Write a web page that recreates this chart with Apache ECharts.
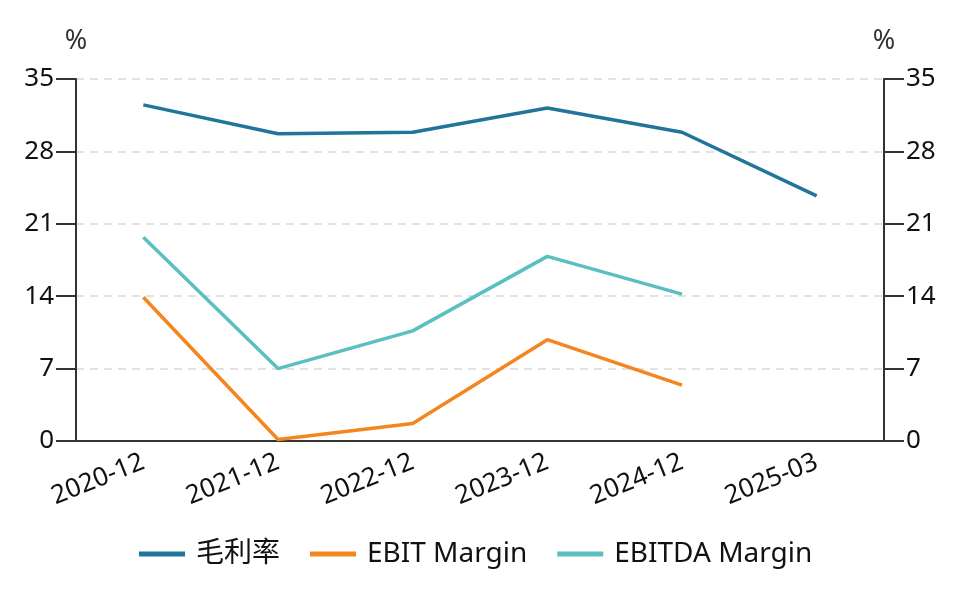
<!DOCTYPE html>
<html><head><meta charset="utf-8">
<script src="https://cdn.jsdelivr.net/npm/echarts@6/dist/echarts.min.js"></script>
<style>html,body{margin:0;padding:0;background:#fff}#c{width:977px;height:597px}</style>
</head><body><div id="c"></div>
<script>
const categories = ['2020-12','2021-12','2022-12','2023-12','2024-12','2025-03'];
const grossMargin = [32.5, 29.7, 29.85, 32.2, 29.85, 23.7];
const ebitMargin = [13.9, 0.15, 1.7, 9.8, 5.4, null];
const ebitdaMargin = [19.7, 7.0, 10.65, 17.85, 14.2, null];
const seriesNames = ['毛利率','EBIT Margin','EBITDA Margin'];
const colors = ['#21759b','#f5861f','#5bbfc0'];
const font = '"Noto Sans", "Noto Sans CJK SC", sans-serif';

const yAxisCommon = {
  type: 'value', min: 0, max: 35, interval: 7, name: '%',
  nameGap: 24,
  nameTextStyle: {fontSize: 27, color: '#333', fontFamily: font},
  axisLine: {show: true, lineStyle: {color: '#333', width: 2}},
  axisTick: {show: true, length: 20, lineStyle: {color: '#333', width: 2}},
  axisLabel: {fontSize: 26, color: '#111', fontFamily: font, margin: 22},
};
const chart = echarts.init(document.getElementById('c'));
chart.setOption({
  color: colors,
  animation: false,
  grid: {left: 76, right: 93, top: 79, bottom: 156},
  legend: {
    bottom: 24, left: 134, itemWidth: 46, itemHeight: 5, itemGap: 30,
    textStyle: {fontSize: 28, color: '#111', fontFamily: font, padding: [0, 0, 0, 6]},
    data: seriesNames.map(n => ({name: n, icon: 'rect'}))
  },
  xAxis: {
    type: 'category', data: categories, boundaryGap: true,
    axisLine: {lineStyle: {color: '#333', width: 2}},
    axisTick: {alignWithLabel: true, length: 18, lineStyle: {color: '#333', width: 2}},
    axisLabel: {rotate: 22, fontSize: 26, color: '#111', fontFamily: font, margin: 20, interval: 0}
  },
  yAxis: [
    Object.assign({}, yAxisCommon, {position: 'left',
      splitLine: {show: true, lineStyle: {type: [8, 6], color: '#d9d9d9', width: 1.5}}}),
    Object.assign({}, yAxisCommon, {position: 'right', splitLine: {show: false}})
  ],
  series: [
    {name: seriesNames[0], type: 'line', data: grossMargin, showSymbol: false, lineStyle: {width: 3.5}},
    {name: seriesNames[1], type: 'line', data: ebitMargin, showSymbol: false, lineStyle: {width: 3.5}},
    {name: seriesNames[2], type: 'line', data: ebitdaMargin, showSymbol: false, lineStyle: {width: 3.5}}
  ]
});
</script></body></html>
